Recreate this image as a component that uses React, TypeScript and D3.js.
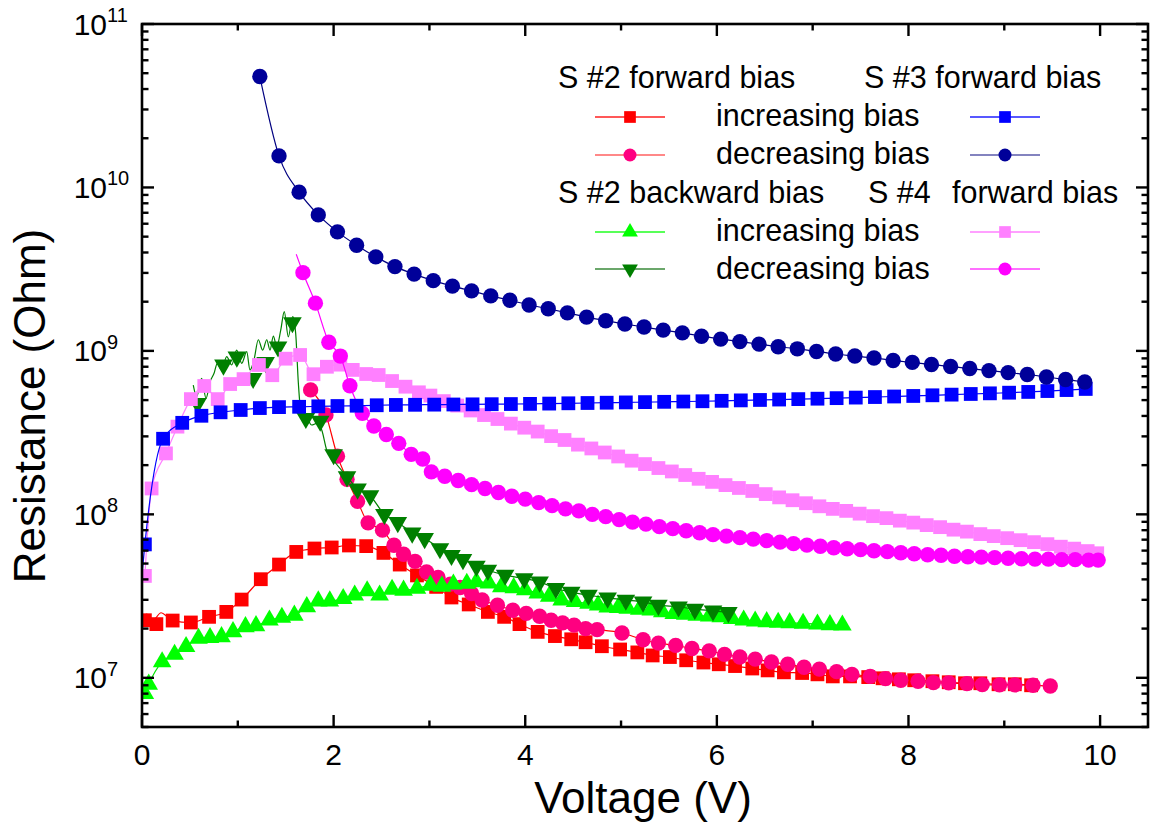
import React from 'react';
import * as d3 from 'd3';

const W = 1154;
const H = 827;
const PL = 142, PR = 1148, PT = 24, PB = 727;

// ---- tick labels ----
const xMajor = [0, 2, 4, 6, 8, 10];
const xMinor = [1, 3, 5, 7, 9];
const yMajorExp = [7, 8, 9, 10, 11];

// ---- S #2 forward bias, increasing ----
const s2FwdIncV = [0.03,0.15,0.32,0.51,0.70,0.88,1.04,1.24,1.43,1.61,1.80,1.98,2.16,2.34,2.52,2.69,2.87,3.07,3.23,3.41,3.61,3.78,3.94,4.13,4.31,4.48,4.63,4.80,4.99,5.17,5.33,5.51,5.68,5.86,6.02,6.19,6.37,6.53,6.70,6.89,7.05,7.21,7.39,7.58,7.73,7.90,8.06,8.25,8.42,8.59,8.75,8.94,9.11,9.28];
const s2FwdIncR = [2.25e7,2.13e7,2.24e7,2.18e7,2.36e7,2.53e7,3.01e7,4.01e7,4.93e7,5.89e7,6.18e7,6.27e7,6.45e7,6.39e7,5.81e7,4.93e7,4.23e7,3.6e7,3.1e7,2.81e7,2.53e7,2.36e7,2.13e7,1.91e7,1.80e7,1.72e7,1.65e7,1.56e7,1.49e7,1.43e7,1.37e7,1.34e7,1.28e7,1.24e7,1.21e7,1.18e7,1.14e7,1.11e7,1.08e7,1.07e7,1.05e7,1.02e7,1.02e7,1.01e7,9.93e6,9.79e6,9.66e6,9.53e6,9.39e6,9.26e6,9.26e6,9.13e6,9.13e6,9.0e6];
// raw trace start of the same sweep (small bump near 0.2 V)
const s2FwdIncTraceV = [0.0, 0.05, 0.1, 0.2, 0.27];
const s2FwdIncTraceR = [2.3e7, 2.45e7, 2.2e7, 2.5e7, 2.35e7];

// ---- S #2 forward bias, decreasing ----
const s2FwdDecV = [1.76,1.92,2.04,2.14,2.25,2.36,2.51,2.63,2.73,2.85,2.97,3.09,3.22,3.32,3.44,3.55,3.71,3.87,4.01,4.15,4.27,4.39,4.51,4.63,4.75,5.01,5.23,5.39,5.57,5.74,5.92,6.08,6.24,6.40,6.57,6.74,6.91,7.07,7.25,7.41,7.60,7.76,7.92,8.10,8.26,8.42,8.61,8.77,8.95,9.11,9.30,9.48];
const s2FwdDecR = [5.77e8,4.06e8,2.27e8,1.64e8,1.2e8,8.87e7,8.0e7,6.47e7,5.7e7,5.16e7,4.44e7,4.11e7,3.74e7,3.57e7,3.28e7,2.99e7,2.78e7,2.59e7,2.48e7,2.38e7,2.25e7,2.17e7,2.10e7,2.0e7,1.97e7,1.88e7,1.71e7,1.63e7,1.58e7,1.51e7,1.46e7,1.39e7,1.34e7,1.30e7,1.25e7,1.21e7,1.16e7,1.13e7,1.09e7,1.05e7,1.02e7,9.89e6,9.66e6,9.52e6,9.35e6,9.3e6,9.22e6,9.09e6,9.05e6,9.05e6,9.0e6,8.91e6];

// ---- S #3 forward bias, increasing ----
const s3IncV = [0.03,0.22,0.42,0.62,0.82,1.03,1.23,1.43,1.64,1.84,2.04,2.24,2.45,2.65,2.85,3.05,3.25,3.45,3.65,3.85,4.05,4.25,4.45,4.65,4.85,5.05,5.25,5.45,5.65,5.85,6.05,6.25,6.45,6.65,6.85,7.05,7.25,7.45,7.65,7.85,8.05,8.25,8.45,8.65,8.85,9.05,9.25,9.45,9.65,9.85];
const s3IncR = [6.55e7,2.9e8,3.63e8,4.01e8,4.21e8,4.35e8,4.47e8,4.53e8,4.55e8,4.58e8,4.6e8,4.62e8,4.65e8,4.67e8,4.68e8,4.69e8,4.7e8,4.71e8,4.72e8,4.73e8,4.74e8,4.76e8,4.78e8,4.8e8,4.82e8,4.84e8,4.86e8,4.88e8,4.9e8,4.92e8,4.95e8,4.98e8,5.01e8,5.04e8,5.07e8,5.1e8,5.14e8,5.18e8,5.22e8,5.26e8,5.3e8,5.35e8,5.4e8,5.45e8,5.5e8,5.55e8,5.61e8,5.68e8,5.76e8,5.85e8];

// ---- S #3 forward bias, decreasing ----
const s3DecV = [1.23,1.43,1.64,1.84,2.04,2.24,2.44,2.64,2.84,3.04,3.24,3.44,3.64,3.84,4.04,4.24,4.44,4.64,4.84,5.04,5.24,5.44,5.64,5.84,6.04,6.24,6.44,6.64,6.84,7.04,7.24,7.44,7.64,7.84,8.04,8.24,8.44,8.64,8.84,9.04,9.24,9.44,9.64,9.84];
const s3DecR = [4.77e10,1.56e10,9.36e9,6.79e9,5.35e9,4.43e9,3.76e9,3.28e9,2.95e9,2.69e9,2.49e9,2.33e9,2.17e9,2.04e9,1.91e9,1.81e9,1.71e9,1.61e9,1.53e9,1.46e9,1.40e9,1.34e9,1.29e9,1.23e9,1.18e9,1.14e9,1.10e9,1.06e9,1.03e9,9.92e8,9.57e8,9.31e8,9.05e8,8.74e8,8.5e8,8.26e8,8.03e8,7.8e8,7.58e8,7.37e8,7.17e8,6.92e8,6.68e8,6.45e8];

// ---- S #2 backward bias, increasing ----
const s2BwdIncV = [0.03,0.07,0.21,0.34,0.46,0.59,0.71,0.83,0.95,1.08,1.19,1.33,1.46,1.59,1.72,1.84,1.96,2.10,2.22,2.35,2.48,2.61,2.73,2.87,3.01,3.13,3.25,3.39,3.49,3.62,3.75,3.88,4.00,4.13,4.25,4.38,4.52,4.66,4.76,4.86,4.97,5.07,5.19,5.31,5.43,5.55,5.67,5.79,5.92,6.04,6.16,6.28,6.40,6.52,6.64,6.76,6.90,7.05,7.18,7.31];
const s2BwdIncR = [8.0e6,9.12e6,1.25e7,1.39e7,1.55e7,1.74e7,1.76e7,1.78e7,1.91e7,2.05e7,2.08e7,2.25e7,2.34e7,2.41e7,2.72e7,2.95e7,2.95e7,3.05e7,3.2e7,3.4e7,3.2e7,3.47e7,3.43e7,3.52e7,3.68e7,3.63e7,3.74e7,3.78e7,3.86e7,3.8e7,3.6e7,3.55e7,3.45e7,3.3e7,3.15e7,2.99e7,2.92e7,2.85e7,2.78e7,2.71e7,2.69e7,2.66e7,2.62e7,2.59e7,2.53e7,2.47e7,2.44e7,2.41e7,2.38e7,2.36e7,2.3e7,2.25e7,2.22e7,2.2e7,2.18e7,2.17e7,2.15e7,2.13e7,2.11e7,2.10e7];

// ---- S #2 backward bias, decreasing ----
const s2BwdDecV = [0.58,0.85,0.99,1.16,1.29,1.42,1.57,1.71,1.86,2.00,2.14,2.25,2.38,2.53,2.67,2.82,2.95,3.11,3.23,3.35,3.49,3.61,3.79,3.99,4.15,4.32,4.48,4.66,4.86,5.05,5.23,5.39,5.60,5.77,5.96,6.12];
const s2BwdDecR = [4.78e8,8.2e8,9.18e8,6.8e8,8.5e8,1.06e9,1.49e9,3.87e8,3.72e8,2.32e8,1.70e8,1.43e8,1.30e8,1.0e8,8.93e7,7.7e7,7.12e7,6.18e7,5.62e7,5.3e7,4.82e7,4.55e7,4.25e7,4.05e7,3.86e7,3.53e7,3.34e7,3.2e7,3.08e7,2.99e7,2.91e7,2.78e7,2.72e7,2.63e7,2.57e7,2.51e7];
// noisy raw trace of the same sweep below 2 V
const s2BwdDecTraceV = [0.535,0.571,0.623,0.668,0.710,0.752,0.786,0.832,0.884,0.936,0.988,1.041,1.093,1.127,1.169,1.214,1.260,1.302,1.336,1.371,1.406,1.448,1.485,1.527,1.573,1.604,1.632,1.657,1.719,1.771,1.824,1.876,1.928,1.997];
const s2BwdDecTraceR = [6.18e8,5.25e8,6.79e8,5.13e8,6.47e8,7.29e8,8.4e8,7.64e8,9.22e8,8.2e8,1.01e9,8.4e8,9.89e8,7.64e8,8.8e8,1.17e9,1.01e9,1.17e9,1.01e9,1.23e9,1.06e9,1.34e9,1.74e9,1.22e9,1.62e9,1.28e9,6.34e8,4.35e8,3.95e8,3.52e8,3.6e8,3.28e8,2.47e8,2.15e8];

// ---- S #4 forward bias, increasing ----
const s4IncV = [0.03,0.10,0.25,0.37,0.51,0.65,0.79,0.92,1.06,1.22,1.36,1.50,1.65,1.79,1.93,2.07,2.20,2.34,2.47,2.61,2.75,2.89,3.01,3.15,3.29,3.43,3.57,3.71,3.85,3.99,4.13,4.27,4.41,4.55,4.69,4.83,4.97,5.11,5.25,5.39,5.53,5.67,5.81,5.95,6.09,6.23,6.37,6.51,6.65,6.79,6.93,7.07,7.21,7.35,7.49,7.63,7.77,7.91,8.05,8.19,8.33,8.47,8.61,8.75,8.89,9.03,9.17,9.31,9.45,9.59,9.73,9.87,9.97];
const s4IncR = [4.2e7,1.44e8,2.36e8,3.44e8,5.07e8,6.1e8,5.07e8,6.27e8,6.72e8,8.2e8,7.1e8,8.96e8,9.44e8,7.2e8,8.0e8,8.24e8,7.65e8,7.22e8,7.12e8,6.54e8,6.04e8,5.58e8,5.33e8,4.93e8,4.63e8,4.32e8,4.05e8,3.83e8,3.59e8,3.39e8,3.21e8,3.01e8,2.85e8,2.67e8,2.53e8,2.39e8,2.26e8,2.13e8,2.03e8,1.92e8,1.83e8,1.74e8,1.65e8,1.58e8,1.51e8,1.45e8,1.39e8,1.33e8,1.27e8,1.22e8,1.17e8,1.12e8,1.08e8,1.05e8,1.01e8,9.75e7,9.48e7,9.15e7,8.9e7,8.59e7,8.35e7,8.06e7,7.84e7,7.57e7,7.36e7,7.15e7,6.95e7,6.76e7,6.57e7,6.34e7,6.17e7,5.96e7,5.78e7];

// ---- S #4 forward bias, decreasing ----
const s4DecV = [1.68,1.81,1.95,2.07,2.17,2.30,2.42,2.55,2.68,2.81,2.93,3.02,3.16,3.30,3.44,3.58,3.72,3.86,4.00,4.14,4.28,4.42,4.56,4.70,4.84,4.98,5.12,5.26,5.40,5.54,5.68,5.82,5.96,6.10,6.24,6.38,6.52,6.66,6.80,6.94,7.08,7.22,7.36,7.50,7.64,7.78,7.92,8.06,8.20,8.34,8.48,8.62,8.76,8.90,9.04,9.18,9.32,9.46,9.60,9.74,9.88,9.98];
const s4DecR = [3.01e9,1.96e9,1.13e9,9.3e8,6.12e8,4.15e8,3.47e8,3.08e8,2.72e8,2.33e8,2.18e8,1.82e8,1.71e8,1.61e8,1.52e8,1.44e8,1.36e8,1.29e8,1.24e8,1.18e8,1.13e8,1.08e8,1.05e8,1.0e8,9.68e7,9.29e7,8.96e7,8.71e7,8.41e7,8.17e7,7.94e7,7.72e7,7.51e7,7.36e7,7.2e7,7.05e7,6.9e7,6.76e7,6.62e7,6.48e7,6.38e7,6.25e7,6.16e7,6.08e7,5.99e7,5.91e7,5.82e7,5.74e7,5.66e7,5.62e7,5.54e7,5.5e7,5.47e7,5.43e7,5.39e7,5.35e7,5.32e7,5.32e7,5.28e7,5.28e7,5.25e7,5.25e7];

type Pt = [number, number];
const zip = (v: number[], r: number[]): Pt[] => v.map((d, i) => [d, r[i]]);

type Shape = 'square' | 'circle' | 'up' | 'down';
interface Series {
  key: string;
  pts: Pt[];
  line: Pt[];
  shape: Shape;
  fill: string;
  stroke: string;
  legendLine: string;
}

const series: Series[] = [
  { key: 's2fi', pts: zip(s2FwdIncV, s2FwdIncR), line: [...zip(s2FwdIncTraceV, s2FwdIncTraceR), ...zip(s2FwdIncV, s2FwdIncR).filter(p => p[0] > 0.3)], shape: 'square', fill: '#FF0000', stroke: '#FF0000', legendLine: '#FF2020' },
  { key: 's2fd', pts: zip(s2FwdDecV, s2FwdDecR), line: zip(s2FwdDecV, s2FwdDecR), shape: 'circle', fill: '#FF0080', stroke: '#FF0000', legendLine: '#FF6060' },
  { key: 's2bi', pts: zip(s2BwdIncV, s2BwdIncR), line: zip(s2BwdIncV, s2BwdIncR), shape: 'up', fill: '#00FF00', stroke: '#00E000', legendLine: '#20FF20' },
  { key: 's2bd', pts: zip(s2BwdDecV, s2BwdDecR), line: [...zip(s2BwdDecTraceV, s2BwdDecTraceR), ...zip(s2BwdDecV, s2BwdDecR).filter(p => p[0] > 2.0)], shape: 'down', fill: '#007F00', stroke: '#008000', legendLine: '#3A8A3A' },
  { key: 's4i', pts: zip(s4IncV, s4IncR), line: zip(s4IncV, s4IncR), shape: 'square', fill: '#FF80FF', stroke: '#FF80FF', legendLine: '#FF80FF' },
  { key: 's4d', pts: zip(s4DecV, s4DecR), line: [[1.61, 3.9e9], ...zip(s4DecV, s4DecR)], shape: 'circle', fill: '#FF00FF', stroke: '#FF00FF', legendLine: '#FF40FF' },
  { key: 's3i', pts: zip(s3IncV, s3IncR), line: [[0.005, 4.6e7], ...zip(s3IncV, s3IncR)], shape: 'square', fill: '#0000FF', stroke: '#0000FF', legendLine: '#2020FF' },
  { key: 's3d', pts: zip(s3DecV, s3DecR), line: zip(s3DecV, s3DecR), shape: 'circle', fill: '#000099', stroke: '#000080', legendLine: '#5A5AAA' },
];

const byKey = (k: string) => series.find(s => s.key === k)!;

function symbolPath(shape: Shape, scale = 1): string {
  const sym = d3.symbol();
  if (shape === 'square') return sym.type(d3.symbolSquare).size(190 * scale)() as string;
  if (shape === 'circle') return sym.type(d3.symbolCircle).size(185 * scale)() as string;
  return sym.type(d3.symbolTriangle).size(150 * scale)() as string;
}

const FONT = "Arial, 'Liberation Sans', Helvetica, sans-serif";

export default function App() {
  const x = d3.scaleLinear().domain([0, 10.5]).range([PL, PR]);
  const y = d3.scaleLog().domain([5e6, 1e11]).range([PB, PT]);

  const lineGen = d3.line<Pt>()
    .x(d => x(d[0]))
    .y(d => y(d[1]))
    .curve(d3.curveMonotoneX);

  const yMinor: number[] = [];
  for (let e = 6; e <= 10; e++) {
    for (let k = 2; k <= 9; k++) {
      const v = k * Math.pow(10, e);
      if (v >= 5e6 && v <= 1e11) yMinor.push(v);
    }
  }

  const majorLen = 12, minorLen = 6.5;

  const renderMarker = (s: Series, cx: number, cy: number, scale: number, key: string) => (
    <path
      key={key}
      d={symbolPath(s.shape, scale)}
      transform={`translate(${cx},${cy})${s.shape === 'down' ? ' rotate(180)' : ''}`}
      fill={s.fill}
    />
  );

  const legendItem = (k: string, x1: number, x2: number, cy: number) => {
    const s = byKey(k);
    return (
      <g key={`leg-${k}`}>
        <line x1={x1} x2={x2} y1={cy} y2={cy} stroke={s.legendLine} strokeWidth={1.7} />
        {renderMarker(s, (x1 + x2) / 2, cy, 0.72, `lm-${k}`)}
      </g>
    );
  };

  return (
    <svg width={W} height={H} style={{ position: 'absolute', left: 0, top: 0, background: '#fff' }} fontFamily={FONT}>
      <rect x={0} y={0} width={W} height={H} fill="#fff" />
      <defs>
        <clipPath id="plotclip">
          <rect x={PL} y={PT} width={PR - PL} height={PB - PT} />
        </clipPath>
      </defs>

      {/* series */}
      <g clipPath="url(#plotclip)">
        {series.map(s => (
          <g key={s.key}>
            <path d={lineGen(s.line) || ''} fill="none" stroke={s.stroke} strokeWidth={1.2} />
            {s.pts.map((p, i) => renderMarker(s, x(p[0]), y(p[1]), 1, `${s.key}-${i}`))}
          </g>
        ))}
      </g>

      {/* frame */}
      <rect x={PL} y={PT} width={PR - PL} height={PB - PT} fill="none" stroke="#000" strokeWidth={2.6} />

      {/* x ticks */}
      {xMajor.map(v => (
        <g key={`xM${v}`}>
          <line x1={x(v)} x2={x(v)} y1={PB} y2={PB - majorLen} stroke="#000" strokeWidth={2.4} />
          <line x1={x(v)} x2={x(v)} y1={PT} y2={PT + majorLen} stroke="#000" strokeWidth={2.4} />
          <text x={x(v)} y={765} textAnchor="middle" fontSize={30} fill="#000">{v}</text>
        </g>
      ))}
      {xMinor.map(v => (
        <g key={`xm${v}`}>
          <line x1={x(v)} x2={x(v)} y1={PB} y2={PB - minorLen} stroke="#000" strokeWidth={2.4} />
          <line x1={x(v)} x2={x(v)} y1={PT} y2={PT + minorLen} stroke="#000" strokeWidth={2.4} />
        </g>
      ))}

      {/* y ticks */}
      {yMajorExp.map(e => {
        const yy = y(Math.pow(10, e));
        return (
          <g key={`yM${e}`}>
            <line x1={PL} x2={PL + majorLen} y1={yy} y2={yy} stroke="#000" strokeWidth={2.4} />
            <line x1={PR} x2={PR - majorLen} y1={yy} y2={yy} stroke="#000" strokeWidth={2.4} />
            <text x={107} y={yy + 10.5} textAnchor="end" fontSize={30} fill="#000">10</text>
            <text x={107} y={yy - 2} textAnchor="start" fontSize={20} fill="#000">{e}</text>
          </g>
        );
      })}
      {yMinor.map(v => {
        const yy = y(v);
        return (
          <g key={`ym${v}`}>
            <line x1={PL} x2={PL + minorLen} y1={yy} y2={yy} stroke="#000" strokeWidth={2.4} />
            <line x1={PR} x2={PR - minorLen} y1={yy} y2={yy} stroke="#000" strokeWidth={2.4} />
          </g>
        );
      })}

      {/* axis titles */}
      <text x={643} y={813} textAnchor="middle" fontSize={44} fill="#000">Voltage (V)</text>
      <text transform="translate(45,406) rotate(-90)" textAnchor="middle" fontSize={44} fill="#000">Resistance (Ohm)</text>

      {/* legend */}
      <g fontSize={30.5} fill="#000" style={{ whiteSpace: 'pre' }}>
        <text x={558} y={88}>S #2 forward bias</text>
        <text x={864} y={88}>S #3 forward bias</text>
        <text x={716} y={126}>increasing bias</text>
        <text x={716} y={164}>decreasing bias</text>
        <text x={558} y={203}>S #2 backward bias</text>
        <text x={868} y={203}>S #4</text>
        <text x={952} y={203}>forward bias</text>
        <text x={716} y={241}>increasing bias</text>
        <text x={716} y={279}>decreasing bias</text>
      </g>
      {legendItem('s2fi', 595, 665, 117)}
      {legendItem('s2fd', 595, 665, 155)}
      {legendItem('s3i', 970, 1040, 117)}
      {legendItem('s3d', 970, 1040, 155)}
      {legendItem('s2bi', 595, 665, 232)}
      {legendItem('s2bd', 595, 665, 269)}
      {legendItem('s4i', 970, 1040, 232)}
      {legendItem('s4d', 970, 1040, 269)}
    </svg>
  );
}
